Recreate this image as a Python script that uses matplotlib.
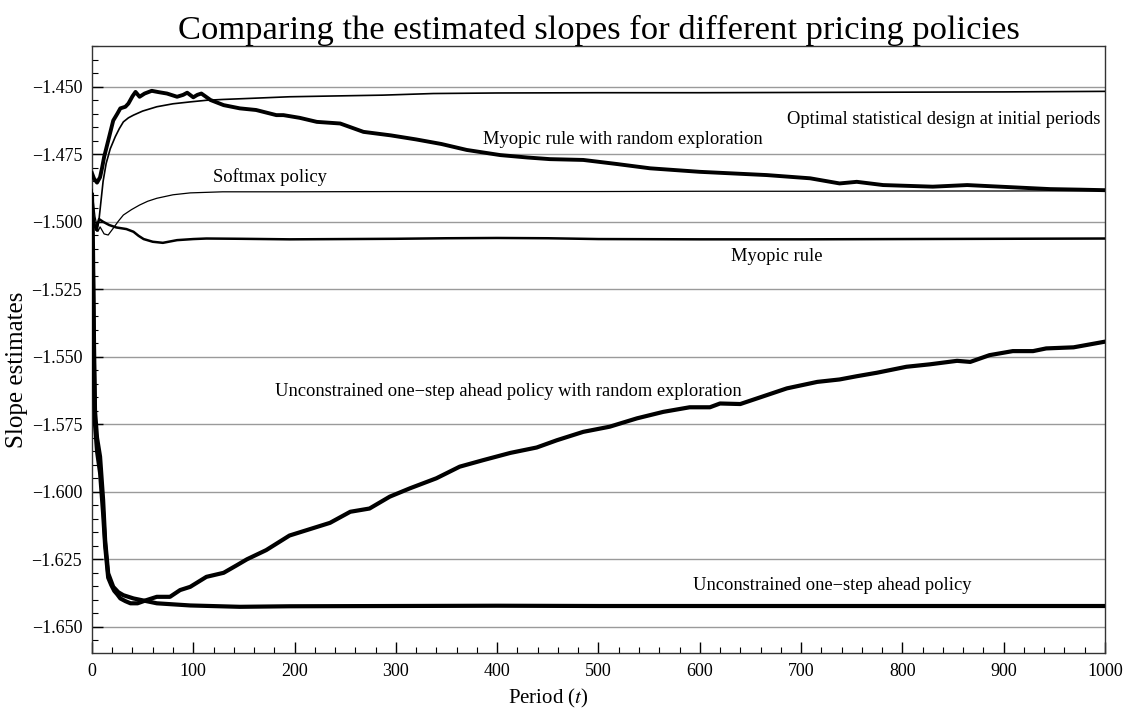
import matplotlib
matplotlib.use("Agg")
import matplotlib.pyplot as plt
from matplotlib.ticker import MultipleLocator, FuncFormatter

# --- FONT SETUP ---
plt.rcParams["font.family"] = ["Liberation Serif", "DejaVu Serif"]
plt.rcParams["mathtext.fontset"] = "stix"

# --- DATA ---
# Optimal statistical design at initial periods (thin solid)
osd_t = [1, 3, 5, 7, 9, 11, 14, 18, 23, 27, 31, 36, 41, 50, 64, 80, 97, 113, 129, 156, 195,
         240, 287, 337, 400, 500, 600, 700, 800, 900, 1000]
osd_y = [-1.4960, -1.5010, -1.5035, -1.4990, -1.4920, -1.4850, -1.4784, -1.4730, -1.4685, -1.4655,
         -1.4630, -1.4615, -1.4605, -1.4590, -1.4574, -1.4563, -1.4556, -1.4550, -1.4547, -1.4543,
         -1.4537, -1.4534, -1.4531, -1.4525, -1.4523, -1.4522, -1.4522, -1.4521, -1.4520, -1.4519,
         -1.4517]

# Myopic rule with random exploration (thick solid)
mre_t = [0, 2, 5, 8, 10, 12, 15, 18, 21, 25, 28, 33, 36, 40, 43, 47, 52, 59, 66, 74, 84, 90,
         94, 100, 104, 108, 117, 130, 146, 162, 182, 189, 205, 222, 245, 268, 295, 320, 345, 370,
         403, 430, 452, 485, 518, 551, 600, 633, 666, 709, 738, 755, 781, 830, 864, 880, 913, 946,
         975, 1000]
mre_y = [-1.4820, -1.4840, -1.4855, -1.4835, -1.4800, -1.4760, -1.4715, -1.4670, -1.4625, -1.4600,
         -1.4580, -1.4574, -1.4562, -1.4535, -1.4519, -1.4537, -1.4525, -1.4515, -1.4520, -1.4525,
         -1.4537, -1.4530, -1.4522, -1.4539, -1.4530, -1.4525, -1.4549, -1.4568, -1.4580, -1.4586,
         -1.4605, -1.4605, -1.4615, -1.4630, -1.4636, -1.4667, -1.4680, -1.4695, -1.4712, -1.4734,
         -1.4753, -1.4762, -1.4768, -1.4771, -1.4786, -1.4802, -1.4815, -1.4821, -1.4827, -1.4839,
         -1.4858, -1.4852, -1.4864, -1.4870, -1.4864, -1.4867, -1.4873, -1.4879, -1.4881, -1.4883]

# Softmax policy (thin)
smx_t = [0, 3, 6, 8, 12, 16, 21, 26, 31, 39, 47, 55, 64, 80, 97, 129, 195, 300, 400, 500, 600,
         700, 800, 900, 1000]
smx_y = [-1.4880, -1.4981, -1.5035, -1.5019, -1.5045, -1.5049, -1.5024, -1.4998, -1.4975, -1.4955,
         -1.4938, -1.4924, -1.4913, -1.4900, -1.4893, -1.4889, -1.4889, -1.4888, -1.4888, -1.4888,
         -1.4887, -1.4887, -1.4886, -1.4886, -1.4885]

# Myopic rule (medium solid)
myo_t = [0, 1, 4, 7, 11, 17, 24, 34, 41, 46, 51, 60, 70, 84, 100, 113, 146, 195, 250, 300, 350,
         400, 450, 500, 600, 700, 800, 900, 1000]
myo_y = [-1.4900, -1.4994, -1.5030, -1.4990, -1.5000, -1.5012, -1.5021, -1.5027, -1.5037, -1.5052,
         -1.5064, -1.5074, -1.5078, -1.5068, -1.5064, -1.5062, -1.5063, -1.5065, -1.5064, -1.5063,
         -1.5061, -1.5060, -1.5061, -1.5064, -1.5065, -1.5065, -1.5064, -1.5063, -1.5062]

# Unconstrained one-step ahead policy (thick solid)
uns_t = [0, 1, 2, 3, 5, 8, 11, 13, 16, 21, 26, 31, 41, 64, 97, 146, 195, 300, 400, 500, 600,
         700, 800, 900, 1000]
uns_y = [-1.4900, -1.5100, -1.5450, -1.5700, -1.5800, -1.5870, -1.6030, -1.6179, -1.6302, -1.6352,
         -1.6372, -1.6383, -1.6395, -1.6413, -1.6421, -1.6426, -1.6424, -1.6423, -1.6422, -1.6423,
         -1.6423, -1.6423, -1.6423, -1.6423, -1.6423]

# Unconstrained one-step ahead policy with random exploration (thick solid)
ure_t = [0, 1, 2, 3, 5, 8, 11, 13, 16, 19, 22, 25, 28, 33, 38, 45, 54, 64, 77, 87, 97, 113,
         130, 143, 153, 172, 195, 235, 255, 274, 294, 314, 340, 363, 386, 413, 439, 459, 485,
         511, 538, 564, 590, 610, 620, 640, 663, 686, 716, 738, 755, 775, 804, 827, 854, 867,
         886, 909, 929, 942, 969, 1000]
ure_y = [-1.4950, -1.5200, -1.5550, -1.5750, -1.5850, -1.5930, -1.6080, -1.6200, -1.6318, -1.6345,
         -1.6367, -1.6380, -1.6395, -1.6405, -1.6413, -1.6413, -1.6401, -1.6389, -1.6389, -1.6364,
         -1.6352, -1.6315, -1.6300, -1.6272, -1.6250, -1.6216, -1.6162, -1.6115, -1.6074, -1.6062,
         -1.6018, -1.5987, -1.5950, -1.5907, -1.5883, -1.5856, -1.5836, -1.5809, -1.5778, -1.5759,
         -1.5728, -1.5704, -1.5687, -1.5687, -1.5673, -1.5675, -1.5646, -1.5617, -1.5593, -1.5584,
         -1.5572, -1.5559, -1.5537, -1.5528, -1.5515, -1.5519, -1.5494, -1.5479, -1.5479, -1.5469,
         -1.5465, -1.5444]

# --- FIGURE ---
fig = plt.figure(figsize=(11.34, 7.11), dpi=100)
ax = fig.add_axes([0.0811, 0.0816, 0.8933, 0.8537])

# grid first so curves sit on top
for yv in [-1.650, -1.625, -1.600, -1.575, -1.550, -1.525, -1.500, -1.475, -1.450]:
    ax.axhline(yv, color="#9a9a9a", lw=1.0, zorder=0)

ax.plot(osd_t, osd_y, color="black", lw=1.2, zorder=3)
ax.plot(smx_t, smx_y, color="black", lw=0.9, zorder=3)
ax.plot(myo_t, myo_y, color="black", lw=1.8, zorder=3)
ax.plot(mre_t, mre_y, color="black", lw=2.8, zorder=4)
ax.plot(uns_t, uns_y, color="black", lw=3.0, zorder=4)
ax.plot(ure_t, ure_y, color="black", lw=3.0, zorder=4)

# --- LABELS ON CURVES ---
fs = 13.3
ax.text(995, -1.4623, "Optimal statistical design at initial periods", ha="right", va="center", fontsize=fs)
ax.text(386, -1.4695, "Myopic rule with random exploration", ha="left", va="center", fontsize=fs)
ax.text(119, -1.4833, "Softmax policy", ha="left", va="center", fontsize=fs)
ax.text(631, -1.5127, "Myopic rule", ha="left", va="center", fontsize=fs)
ax.text(181, -1.5627, "Unconstrained one\u2212step ahead policy with random exploration",
        ha="left", va="center", fontsize=fs)
ax.text(593, -1.6348, "Unconstrained one\u2212step ahead policy", ha="left", va="center", fontsize=fs)

# --- AXES ---
ax.set_xlim(0, 1000)
ax.set_ylim(-1.6597, -1.4349)
ax.xaxis.set_major_locator(MultipleLocator(100))
ax.xaxis.set_minor_locator(MultipleLocator(20))
ax.yaxis.set_major_locator(MultipleLocator(0.025))
ax.yaxis.set_minor_locator(MultipleLocator(0.005))
ax.yaxis.set_major_formatter(FuncFormatter(lambda v, p: f"{v:.3f}".replace("-", "\u2212")))
ax.tick_params(which="both", direction="in", top=False, right=False, labelsize=13, pad=7)
ax.tick_params(which="major", length=8, width=1)
ax.tick_params(which="minor", length=4, width=0.8)
for s in ax.spines.values():
    s.set_linewidth(1.0)
    s.set_color("#333333")

fig.text(548 / 1134, 1 - 698 / 711, "Period ($t$)", fontsize=15, ha="center", va="center")
fig.text(17.5 / 1134, 1 - 370 / 711, "Slope estimates", fontsize=18, rotation=90,
         ha="center", va="center")
ax.set_title("Comparing the estimated slopes for different pricing policies", fontsize=24.8, pad=4)

fig.savefig("out.png", dpi=100)
